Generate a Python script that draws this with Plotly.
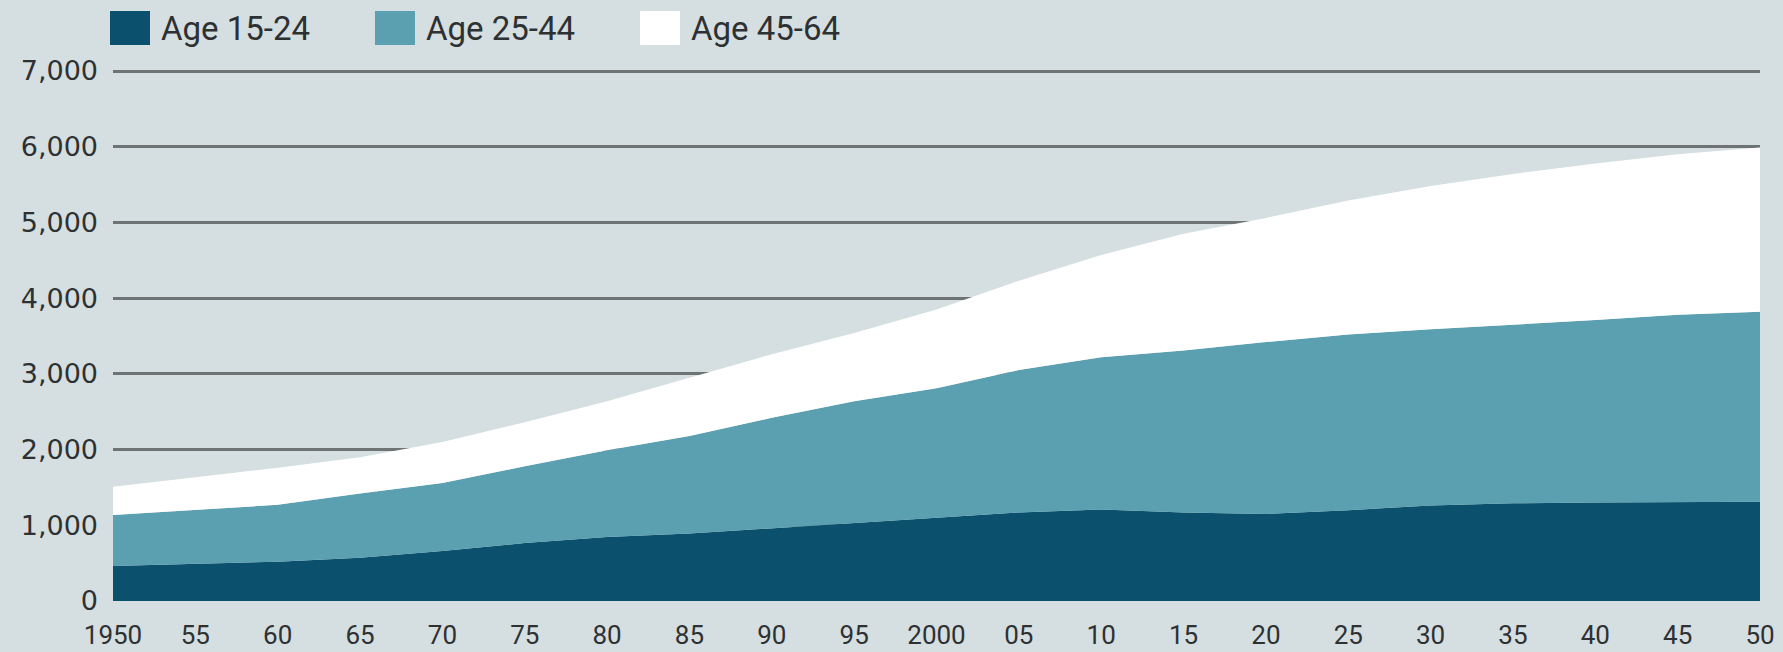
import plotly.graph_objects as go

years = [1950, 1955, 1960, 1965, 1970, 1975, 1980, 1985, 1990, 1995, 2000,
         2005, 2010, 2015, 2020, 2025, 2030, 2035, 2040, 2045, 2050]

# cumulative tops, converted to each age group's own value
top_15_24 = [462, 490, 520, 570, 660, 765, 845, 890, 960, 1030, 1100,
             1170, 1210, 1170, 1150, 1200, 1260, 1290, 1300, 1305, 1312]
top_25_44 = [1136, 1200, 1270, 1420, 1560, 1780, 1990, 2180, 2420, 2640, 2810,
             3050, 3220, 3310, 3420, 3520, 3590, 3650, 3710, 3780, 3822]
top_45_64 = [1510, 1640, 1760, 1900, 2100, 2360, 2640, 2950, 3260, 3540, 3850,
             4230, 4570, 4850, 5060, 5290, 5480, 5640, 5780, 5900, 5990]

age_15_24 = top_15_24
age_25_44 = [b - a for a, b in zip(top_15_24, top_25_44)]
age_45_64 = [c - b for b, c in zip(top_25_44, top_45_64)]

series_names = ["Age 15-24", "Age 25-44", "Age 45-64"]
series_values = [age_15_24, age_25_44, age_45_64]
series_colors = ["#0b506c", "#5ba0b1", "#ffffff"]

y_ticks = [0, 1000, 2000, 3000, 4000, 5000, 6000, 7000]
y_ticktext = ["0", "1,000", "2,000", "3,000", "4,000", "5,000", "6,000", "7,000"]
x_ticks = list(range(1950, 2051, 5))
x_ticktext = ["1950", "55", "60", "65", "70", "75", "80", "85", "90", "95", "2000",
              "05", "10", "15", "20", "25", "30", "35", "40", "45", "50"]

BG = "#d5dee0"
TXT = "#2e3132"
NARROW = "Roboto, sans-serif"

W, H = 1783, 652
L, R, T, B = 113, 23, 68, 51
PW, PH = W - L - R, H - T - B


def px_x(x):
    return (x - L) / PW


def px_y(y):
    return (H - B - y) / PH


fig = go.Figure()
for name, vals, col in zip(series_names, series_values, series_colors):
    fig.add_trace(go.Scatter(
        x=years, y=vals, name=name, mode="lines", stackgroup="one",
        line=dict(width=0, color=col), fillcolor=col, showlegend=False,
        hoverinfo="x+y+name",
    ))

# custom legend (big squares + labels)
legend_x = [110, 375, 640]
for name, col, lx in zip(series_names, series_colors, legend_x):
    fig.add_shape(type="rect", xref="paper", yref="paper",
                  x0=px_x(lx), x1=px_x(lx + 40),
                  y0=px_y(45), y1=px_y(11),
                  fillcolor=col, line=dict(width=0), layer="above")
    fig.add_annotation(xref="paper", yref="paper",
                       x=px_x(lx + 49), y=px_y(29),
                       xanchor="left", yanchor="middle", text=name, showarrow=False,
                       font=dict(family=NARROW, size=33, color=TXT))

fig.update_layout(
    template="none",
    width=W, height=H,
    margin=dict(l=L, r=R, t=T, b=B, pad=0),
    paper_bgcolor=BG, plot_bgcolor=BG,
    showlegend=False,
    xaxis=dict(range=[1950, 2050], tickvals=x_ticks, ticktext=x_ticktext,
               showgrid=False, zeroline=False, showline=False, ticks="",
               automargin=False, ticklabelstandoff=16,
               tickfont=dict(family=NARROW, size=26, color=TXT)),
    yaxis=dict(range=[0, 7040], tickvals=y_ticks, ticktext=y_ticktext,
               showgrid=True, gridcolor="#6e7374", gridwidth=3,
               zeroline=False, showline=False, ticks="",
               automargin=False, ticklabelstandoff=14,
               tickfont=dict(family="DejaVu Sans", size=27, color=TXT)),
)

fig.write_html(
    "out.html",
    config={"displayModeBar": False},
    post_script=(
        "document.documentElement.style.margin='0';"
        "document.body.style.margin='0';"
        "document.body.style.overflow='hidden';"
        "document.body.style.background='" + BG + "';"
    ),
)
